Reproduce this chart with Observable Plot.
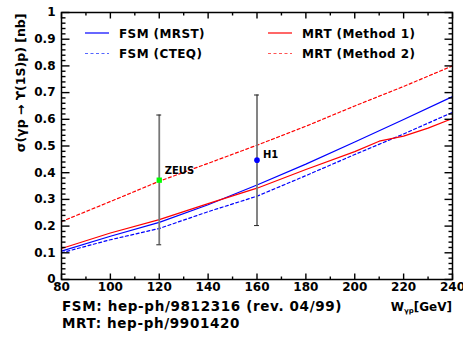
<!DOCTYPE html>
<html><head><meta charset="utf-8">
<script src="https://cdn.jsdelivr.net/npm/d3@7"></script>
<script src="https://cdn.jsdelivr.net/npm/@observablehq/plot@0.6"></script>
<style>body{margin:0;background:#fff;} svg{display:block}</style>
</head><body><div id="chart"></div>
<script>
// ---- data ----
const energies   = [80, 100, 120, 140, 160, 180, 200, 220, 240];
const fsmMRST    = [0.106, 0.162, 0.214, 0.280, 0.354, 0.432, 0.515, 0.599, 0.685];
const fsmCTEQ    = [0.100, 0.149, 0.191, 0.254, 0.312, 0.389, 0.468, 0.545, 0.626];
const mrt2       = [0.217, 0.292, 0.368, 0.435, 0.503, 0.574, 0.650, 0.723, 0.800];
const mrt1Energy = [80, 100, 120, 140, 160, 180, 200, 210, 220, 230, 240];
const mrt1       = [0.116, 0.174, 0.224, 0.284, 0.342, 0.412, 0.479, 0.518, 0.537, 0.567, 0.603];
const expNames   = ["ZEUS", "H1"];
const expEnergy  = [120, 160];
const expSigma   = [0.372, 0.447];
const expLow     = [0.130, 0.202];
const expHigh    = [0.616, 0.691];
const xTicks = [80, 100, 120, 140, 160, 180, 200, 220, 240];
const xTickLabels = ["80", "100", "120", "140", "160", "180", "200", "220", "240"];
const yTicks = [0, 0.1, 0.2, 0.3, 0.4, 0.5, 0.6, 0.7, 0.8, 0.9, 1];
const yTickLabels = ["0", "0.1", "0.2", "0.3", "0.4", "0.5", "0.6", "0.7", "0.8", "0.9", "1"];
const legendNames = ["FSM (MRST)", "FSM (CTEQ)", "MRT (Method 1)", "MRT (Method 2)"];
const yLabel = "σ(γp → ϒ(1S)p) [nb]";
const refLines = ["FSM: hep-ph/9812316 (rev. 04/99)", "MRT: hep-ph/9901420"];

// ---- tables ----
const toRows = (xs, ys) => xs.map((w, i) => ({W: w, sigma: ys[i]}));
const rMRST = toRows(energies, fsmMRST);
const rCTEQ = toRows(energies, fsmCTEQ);
const rM1 = toRows(mrt1Energy, mrt1);
const rM2 = toRows(energies, mrt2);
const exps = expNames.map((n, i) => ({name: n, W: expEnergy[i], sigma: expSigma[i], low: expLow[i], high: expHigh[i]}));

const FONT = "DejaVu Sans";
const blue = "#0000ff", red = "#ff0000";
const WIDTH = 463, HEIGHT = 339, ML = 61, MR = 11, MT = 12, MB = 60;
const FW = WIDTH - ML - MR, FH = HEIGHT - MT - MB;
const X0 = 80, X1 = 240, Y0 = 0, Y1 = 1;

// tick rows: position + pixel length converted to data units
const xTickRows = d3.range(X0, X1 + 1, 10).map(v => ({v, len: (xTicks.includes(v) ? 6 : 3) * (Y1 - Y0) / FH}));
const yTickRows = d3.range(0, 51).map(i => i / 50).map(v => ({v,
  len: (yTicks.some(t => Math.abs(t - v) < 1e-9) ? 8 : 4) * (X1 - X0) / FW}));
const tickStyle = {stroke: "#000", strokeWidth: 1.4};

const plot = Plot.plot({
  width: WIDTH, height: HEIGHT,
  marginLeft: ML, marginRight: MR, marginTop: MT, marginBottom: MB,
  style: {fontFamily: FONT, fontSize: "12px", fontWeight: "bold", background: "#fff", color: "#000"},
  x: {domain: [X0, X1]},
  y: {domain: [Y0, Y1]},
  marks: [
    // tick labels
    Plot.axisX({anchor: "bottom", ticks: xTicks, tickSize: 0, tickPadding: 3, label: null,
      tickFormat: d => xTickLabels[xTicks.indexOf(d)]}),
    Plot.axisY({anchor: "left", ticks: yTicks, tickSize: 0, tickPadding: 6, label: null,
      tickFormat: d => yTickLabels[yTicks.indexOf(d)]}),
    // curves
    Plot.line(rM2, {x: "W", y: "sigma", stroke: red, strokeWidth: 1.2, strokeDasharray: "3,2.5"}),
    Plot.line(rCTEQ, {x: "W", y: "sigma", stroke: blue, strokeWidth: 1.2, strokeDasharray: "3,2.5"}),
    Plot.line(rMRST, {x: "W", y: "sigma", stroke: blue, strokeWidth: 1.2}),
    Plot.line(rM1, {x: "W", y: "sigma", stroke: red, strokeWidth: 1.2}),
    // data points with error bars
    Plot.ruleX(exps, {x: "W", y1: "low", y2: "high", stroke: "#777", strokeWidth: 1.8}),
    Plot.ruleY(exps, {y: "high", x1: d => d.W - 1, x2: d => d.W + 1, stroke: "#222", strokeWidth: 1}),
    Plot.ruleY(exps, {y: "low", x1: d => d.W - 1, x2: d => d.W + 1, stroke: "#222", strokeWidth: 1}),
    Plot.dot(exps.filter(d => d.name === "ZEUS"), {x: "W", y: "sigma", symbol: "square", r: 3, fill: "#00ff00", stroke: "none"}),
    Plot.dot(exps.filter(d => d.name === "H1"), {x: "W", y: "sigma", r: 2.8, fill: blue, stroke: "none"}),
    Plot.text(exps.filter(d => d.name === "ZEUS"), {x: "W", y: "sigma", text: "name", textAnchor: "start",
      lineAnchor: "bottom", dx: 5.5, dy: -6, fontSize: 10, fontWeight: "bold"}),
    Plot.text(exps.filter(d => d.name === "H1"), {x: "W", y: "sigma", text: "name", textAnchor: "start",
      lineAnchor: "bottom", dx: 6, dy: -2.5, fontSize: 10, fontWeight: "bold"}),
    Plot.frame({stroke: "#000", strokeWidth: 1.5}),
    // inward ticks on the four sides (drawn after the frame)
    Plot.link(xTickRows, {x1: "v", x2: "v", y1: () => Y0, y2: d => Y0 + d.len, ...tickStyle}),
    Plot.link(xTickRows, {x1: "v", x2: "v", y1: () => Y1, y2: d => Y1 - d.len, ...tickStyle}),
    Plot.link(yTickRows, {y1: "v", y2: "v", x1: () => X0, x2: d => X0 + d.len, ...tickStyle}),
    Plot.link(yTickRows, {y1: "v", y2: "v", x1: () => X1, x2: d => X1 - d.len, ...tickStyle}),
    // y-axis title
    Plot.text([yLabel], {frameAnchor: "top-left", text: d => d, rotate: -90, textAnchor: "end",
      lineAnchor: "middle", dx: -41, dy: 1, fontSize: 12.5, fontWeight: "bold"})
  ]
});
document.getElementById("chart").appendChild(plot);
const svg = d3.select(plot);

// reference lines below the frame
const rg = svg.append("g").attr("font-family", FONT).attr("font-weight", "bold")
  .attr("font-size", 13.5).attr("text-anchor", "start").attr("letter-spacing", 0.65).attr("fill", "#000");
rg.append("text").attr("x", 62).attr("y", 311).text(refLines[0]);
rg.append("text").attr("x", 62).attr("y", 328).text(refLines[1]);

// x-axis title with subscript
const xt = svg.append("text").attr("x", 452).attr("y", 311).attr("text-anchor", "end")
  .attr("font-family", FONT).attr("font-weight", "bold").attr("font-size", 12);
xt.append("tspan").text("W");
xt.append("tspan").attr("font-size", 7).attr("dy", 2).text("γp");
xt.append("tspan").attr("dy", -2).text("[GeV]");

// legend
const leg = svg.append("g").attr("font-family", FONT).attr("font-weight", "bold")
  .attr("font-size", 12).attr("text-anchor", "start").attr("letter-spacing", 0.4);
const legItems = [
  {name: legendNames[0], color: blue, dash: null, x: 85, y: 33},
  {name: legendNames[1], color: "#5566ff", dash: "3,2.5", x: 85, y: 53.5},
  {name: legendNames[2], color: red, dash: null, x: 268, y: 33},
  {name: legendNames[3], color: "#ff5555", dash: "3,2.5", x: 268, y: 53.5}
];
legItems.forEach(it => {
  leg.append("line").attr("x1", it.x).attr("x2", it.x + 24).attr("y1", it.y).attr("y2", it.y)
    .attr("stroke", it.color).attr("stroke-width", 1.2).attr("stroke-dasharray", it.dash);
  leg.append("text").attr("x", it.x + 34).attr("y", it.y + 4.5).text(it.name);
});
</script>
</body></html>
